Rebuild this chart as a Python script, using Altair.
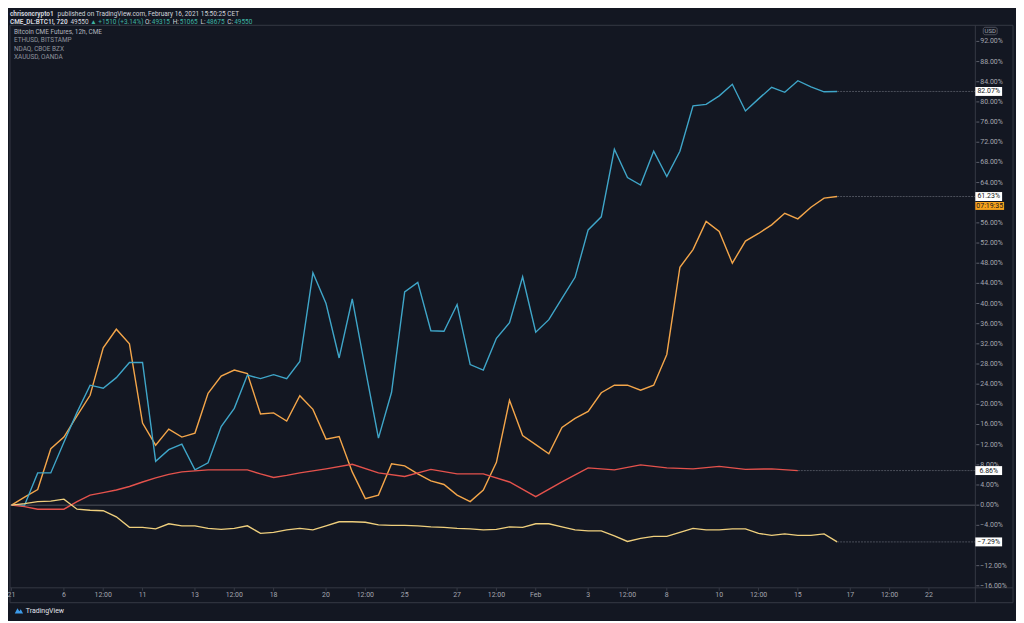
import altair as alt
import pandas as pd

# ---------------- data ----------------
series_names = ["Bitcoin CME Futures, 12h, CME", "ETHUSD, BITSTAMP", "NDAQ, CBOE BZX", "XAUUSD, OANDA"]

btc = [0, 1.6, 3.1, 11.2, 13.5, 17.7, 21.8, 31.2, 34.9, 32.0, 16.3, 11.9, 15.1, 13.5, 14.3, 22.2,
       25.6, 26.8, 26.1, 18.1, 18.3, 16.7, 21.7, 19.0, 13.1, 13.6, 6.6, 1.3, 2.0, 8.2, 7.8, 6.2,
       4.8, 4.1, 2.0, 0.7, 3.0, 8.5, 20.8, 13.8, 12.0, 10.2, 15.4, 17.2, 18.6, 22.3, 23.8, 23.8,
       22.8, 23.8, 29.9, 47.2, 50.7, 56.3, 54.3, 48.0, 52.4, 53.9, 55.6, 57.9, 56.8, 59.1, 60.9, 61.23]

eth = [0, 0, 6.4, 6.4, 12.5, 18.4, 23.8, 23.2, 25.3, 28.3, 28.3, 8.7, 11.0, 12.1, 7.0, 8.4,
       15.6, 19.2, 25.8, 25.1, 25.9, 25.1, 28.5, 46.1, 40.0, 29.2, 40.9, 27.0, 13.3, 22.4, 42.3, 44.2,
       34.6, 34.5, 39.8, 27.9, 26.8, 33.1, 36.2, 45.3, 34.3, 36.8, 41.0, 45.2, 54.6, 57.2, 70.6, 65.0,
       63.5, 70.2, 65.2, 70.2, 79.2, 79.5, 81.2, 83.5, 78.2, 80.6, 82.9, 81.9, 84.2, 83.0, 82.0, 82.07]

ndaq_idx = [0, 1, 2, 3, 4, 5, 6, 7, 8, 9, 10, 11, 12, 13, 14, 15, 16, 17, 18, 19, 20, 21, 22,
            24, 26, 28, 30, 32, 34, 36, 38, 40, 42, 44, 46, 48, 50, 52, 54, 56, 58, 60]
ndaq = [0, -0.3, -0.8, -0.8, -0.8, 0.7, 2.0, 2.5, 3.0, 3.7, 4.6, 5.4, 6.1, 6.6, 6.8, 7.0, 7.0, 7.0,
        7.0, 6.2, 5.5, 5.9, 6.4, 7.2, 8.1, 6.4, 5.7, 7.1, 6.2, 6.2, 4.6, 1.7, 4.6, 7.4, 7.0, 8.0,
        7.4, 7.2, 7.7, 7.1, 7.2, 6.86]

xau = [0, 0.3, 0.7, 0.8, 1.2, -0.8, -1.0, -1.1, -2.3, -4.4, -4.4, -4.7, -3.7, -4.1, -4.1, -4.6,
       -4.8, -4.6, -4.1, -5.6, -5.4, -4.9, -4.6, -4.9, -4.1, -3.3, -3.3, -3.4, -3.9, -4.0, -4.0, -4.1,
       -4.3, -4.4, -4.6, -4.7, -4.9, -4.8, -4.3, -4.4, -3.7, -3.7, -4.3, -4.9, -5.1, -5.1, -6.1, -7.2,
       -6.6, -6.2, -6.2, -5.4, -4.6, -4.9, -4.9, -4.7, -4.7, -5.6, -6.0, -5.7, -6.0, -6.0, -5.7, -7.29]

x_tick_pos = [0, 4, 7, 10, 14, 17, 20, 24, 27, 30, 34, 37, 40, 44, 47, 50, 54, 57, 60, 64, 67, 70]
x_tick_txt = ["21", "6", "12:00", "11", "13", "12:00", "18", "20", "12:00", "25", "27", "12:00",
              "Feb", "3", "12:00", "8", "10", "12:00", "15", "17", "12:00", "22"]
y_ticks = list(range(-16, 93, 4))

series_colors = ["#f4a64a", "#3fa6c9", "#e4524c", "#efcf7d"]

# ---------------- tables ----------------
rows = []
for i, v in enumerate(btc):
    rows.append({"i": i, "v": v, "s": series_names[0]})
for i, v in enumerate(eth):
    rows.append({"i": i, "v": v, "s": series_names[1]})
for i, v in zip(ndaq_idx, ndaq):
    rows.append({"i": i, "v": v, "s": series_names[2]})
for i, v in enumerate(xau):
    rows.append({"i": i, "v": v, "s": series_names[3]})
df = pd.DataFrame(rows)

last_vals = [btc[-1], eth[-1], ndaq[-1], xau[-1]]
last = pd.DataFrame({
    "s": series_names,
    "i": [len(btc) - 1, len(eth) - 1, ndaq_idx[-1], len(xau) - 1],
    "v": last_vals,
})
xt = pd.DataFrame({"i": x_tick_pos, "t": x_tick_txt})

# price-scale labels that sit fully under a last-value / countdown badge are not drawn
covered_centers = last_vals + [btc[-1] - 1.9]
yt_lab = pd.DataFrame({"v": [t for t in y_ticks if all(abs(t - c) >= 1.0 for c in covered_centers)]})
yt = pd.DataFrame({"v": y_ticks})

dummy = pd.DataFrame({"a": [0]})

W, H = 975, 566
FONT = "Roboto"
BG = "#131722"
FRAME = "#363a45"
AXTXT = "#a3a6af"

xsc = alt.Scale(domain=[-0.265, 73.54], nice=False, zero=False)
ysc = alt.Scale(domain=[-16.4, 95.0], nice=False, zero=False)


def X(field):
    return alt.X(field, type="quantitative", scale=xsc, axis=None)


def Y(field):
    return alt.Y(field, type="quantitative", scale=ysc, axis=None)


def text(txt, x, y, color, size=6.5, weight="normal", align="left"):
    return alt.Chart(dummy).mark_text(
        align=align, baseline="middle", fontSize=size, fontWeight=weight, color=color, font=FONT
    ).encode(x=alt.value(x), y=alt.value(y), text=alt.value(txt))


def hline(x1, x2, y, color=FRAME, width=1):
    return alt.Chart(dummy).mark_rule(color=color, strokeWidth=width).encode(
        x=alt.value(x1), x2=alt.value(x2), y=alt.value(y))


def vline(x, y1, y2, color=FRAME, width=1):
    return alt.Chart(dummy).mark_rule(color=color, strokeWidth=width).encode(
        x=alt.value(x), y=alt.value(y1), y2=alt.value(y2))


# series lines
lines = alt.Chart(df).mark_line(strokeWidth=1.4, interpolate="linear").encode(
    x=X("i"), y=Y("v"),
    color=alt.Color("s:N", scale=alt.Scale(domain=series_names, range=series_colors), legend=None),
    detail="s:N",
)

# hand-drawn axes (price scale on the right, time scale at the bottom)
y_lab = alt.Chart(yt_lab).transform_calculate(
    lab="format(datum.v, '.2f') + '%'"
).mark_text(align="left", baseline="middle", fontSize=7, font=FONT, color=AXTXT).encode(
    x=alt.value(W + 5), y=Y("v"), text="lab:N")
y_tick = alt.Chart(yt).mark_rule(color="#5d606b", strokeWidth=1).encode(
    x=alt.value(W + 1), x2=alt.value(W + 4), y=Y("v"))

x_lab = alt.Chart(xt).mark_text(align="center", baseline="middle", fontSize=7, font=FONT,
                                color=AXTXT).encode(x=X("i"), y=alt.value(H + 7.5), text="t:N")
x_tick = alt.Chart(xt).mark_rule(color=FRAME, strokeWidth=1).encode(
    x=X("i"), y=alt.value(H), y2=alt.value(H + 3))

zero = alt.Chart(pd.DataFrame({"z": [0]})).mark_rule(color="#4f525d", strokeWidth=1).encode(
    y=Y("z"), x=alt.value(2), x2=alt.value(W))

guides = alt.Chart(last).mark_rule(color="#4c505b", strokeWidth=1, strokeDash=[2, 1]).encode(
    x=X("i"), x2=alt.value(W), y=Y("v"))

boxes = alt.Chart(last).mark_rect(color="#ffffff", yOffset=-4.5, y2Offset=4.5).encode(
    x=alt.value(W), x2=alt.value(W + 27), y=Y("v"), y2="v:Q")

box_txt = alt.Chart(last).transform_calculate(
    lab="format(datum.v, '.2f') + '%'"
).mark_text(align="center", baseline="middle", fontSize=7, font=FONT, color="#131722").encode(
    x=alt.value(W + 13.5), y=Y("v"), text="lab:N")

main_last = last[last["s"] == series_names[0]]
timer_box = alt.Chart(main_last).mark_rect(color="#f7a21b", yOffset=5.5, y2Offset=13.5).encode(
    x=alt.value(W), x2=alt.value(W + 29), y=Y("v"), y2="v:Q")
timer_txt = alt.Chart(main_last).mark_text(
    align="center", baseline="middle", fontSize=7, font=FONT, color="#131722", dy=9.5
).encode(x=alt.value(W + 14.5), y=Y("v"), text=alt.value("07:19:35"))

# frame
frame = [
    hline(2, 1013, -1),
    hline(2, 1013, H),
    hline(2, 1013, 581),
    vline(2, -1, 581),
    vline(W, -1, 581),
    vline(1013, -1, 581),
]

usd_box = alt.Chart(dummy).mark_rect(fill=BG, stroke="#5d606b", strokeWidth=0.8, cornerRadius=2).encode(
    x=alt.value(983), x2=alt.value(997), y=alt.value(1), y2=alt.value(8.5))
usd_txt = text("USD", 990, 5, AXTXT, size=6, align="center")

# header
T = "#d1d4dc"
TEAL = "#3fb3a2"
L1, L2 = -12.5, -4.5
header = [
    text("chrisoncrypto1", 2, L1, T, weight="bold"),
    text("published on TradingView.com, February 16, 2021 15:50:25 CET", 50, L1, T),
    text("CME_DL:BTC1!, 720", 2, L2, T, weight="bold"),
    text("49550", 63, L2, T),
    text("\u25b2 +1510 (+3.14%)", 83, L2, TEAL),
    text("O:", 138, L2, T),
    text("49315", 145, L2, TEAL),
    text("H:", 166, L2, T),
    text("51065", 173, L2, TEAL),
    text("L:", 194, L2, T),
    text("48675", 200, L2, TEAL),
    text("C:", 221, L2, T),
    text("49550", 228, L2, TEAL),
]

legend = [
    text(series_names[0], 6, 6, "#b2b5be"),
    text(series_names[1], 6, 14.3, "#8f939c"),
    text(series_names[2], 6, 22.7, "#8f939c"),
    text(series_names[3], 6, 31, "#8f939c"),
]

logo = alt.Chart(dummy).mark_point(
    shape="M-1,0.7 L-0.35,-0.6 L0.1,0.15 L0.45,-0.35 L1,0.7 Z", filled=True, color="#3d9be9",
    size=70, opacity=1).encode(x=alt.value(11), y=alt.value(589))
logo_txt = text("TradingView", 18, 589, "#e0e3eb", size=7)

chart = alt.layer(
    *frame, zero, lines, guides, y_tick, y_lab, x_tick, x_lab,
    boxes, box_txt, timer_box, timer_txt, usd_box, usd_txt,
    *header, *legend, logo, logo_txt
).properties(
    width=W, height=H,
    autosize=alt.AutoSizeParams(type="none"),
    padding={"left": 0, "top": 16, "right": 41, "bottom": 31},
).configure(background=BG).configure_view(stroke=None)

chart.save("out.html", embed_options={"renderer": "svg", "actions": False})
